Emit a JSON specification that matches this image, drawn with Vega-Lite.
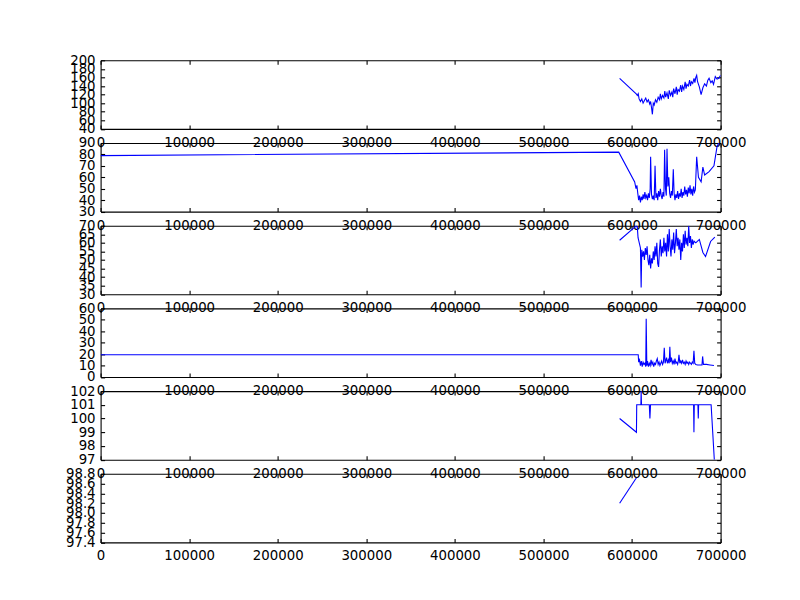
{
"$schema": "https://vega.github.io/schema/vega-lite/v6.json",
"background": "white",
"padding": {"left": 64.6, "top": 53.3, "right": 5, "bottom": 5},
"bounds": "flush",
"spacing": 13.7,
"config": {
 "view": {"stroke": null},
 "axis": {"grid": false, "domainColor": "#000", "domainWidth": 1.1, "tickColor": "#000", "tickWidth": 1.1, "tickSize": -4, "labelFont": "DejaVu Sans", "labelFontSize": 13.33, "labelColor": "#000", "labelOverlap": false, "labelFlush": false, "labelBound": false}
},
"datasets": {
 "p1": [{"x":586000,"y":158},{"x":605000,"y":121},{"x":606000,"y":118},{"x":607000,"y":122},{"x":608000,"y":110},{"x":609500,"y":104},{"x":611000,"y":110},{"x":612500,"y":100},{"x":614000,"y":106},{"x":615500,"y":112},{"x":617000,"y":103},{"x":618500,"y":108},{"x":620000,"y":98},{"x":621000,"y":104},{"x":622000,"y":90},{"x":623000,"y":74},{"x":624000,"y":100},{"x":625000,"y":96},{"x":626500,"y":108},{"x":628000,"y":102},{"x":629500,"y":114},{"x":631000,"y":108},{"x":632000,"y":122},{"x":633000,"y":110},{"x":634500,"y":118},{"x":636000,"y":112},{"x":637000,"y":128},{"x":638000,"y":114},{"x":639500,"y":124},{"x":641000,"y":110},{"x":642000,"y":130},{"x":643500,"y":118},{"x":645000,"y":126},{"x":646000,"y":114},{"x":647000,"y":134},{"x":648500,"y":122},{"x":650000,"y":138},{"x":651000,"y":120},{"x":652000,"y":132},{"x":653500,"y":128},{"x":655000,"y":142},{"x":656000,"y":126},{"x":657000,"y":140},{"x":658500,"y":132},{"x":660000,"y":150},{"x":661000,"y":134},{"x":662000,"y":144},{"x":663500,"y":140},{"x":665000,"y":154},{"x":666000,"y":140},{"x":667000,"y":150},{"x":668500,"y":146},{"x":670000,"y":158},{"x":671000,"y":148},{"x":672000,"y":160},{"x":673000,"y":165},{"x":674000,"y":150},{"x":676000,"y":138},{"x":678000,"y":120},{"x":680000,"y":136},{"x":682000,"y":145},{"x":684000,"y":140},{"x":685500,"y":153},{"x":687000,"y":158},{"x":689000,"y":148},{"x":690500,"y":152},{"x":692000,"y":144},{"x":694000,"y":162},{"x":696000,"y":156},{"x":698000,"y":158},{"x":700000,"y":165}],
 "p2": [{"x":0,"y":79},{"x":585000,"y":82},{"x":603000,"y":56},{"x":604500,"y":50},{"x":605500,"y":53},{"x":606500,"y":46},{"x":607500,"y":40},{"x":608500,"y":44},{"x":609500,"y":38},{"x":610500,"y":43},{"x":611500,"y":40},{"x":612500,"y":45},{"x":613500,"y":41},{"x":614500,"y":47},{"x":615500,"y":42},{"x":616500,"y":44},{"x":617500,"y":40},{"x":618500,"y":46},{"x":619500,"y":42},{"x":620500,"y":50},{"x":621000,"y":78},{"x":622000,"y":45},{"x":623000,"y":41},{"x":624000,"y":44},{"x":625000,"y":40},{"x":626000,"y":70},{"x":627000,"y":42},{"x":628000,"y":46},{"x":629000,"y":40},{"x":630000,"y":48},{"x":631000,"y":43},{"x":632000,"y":50},{"x":633000,"y":44},{"x":634000,"y":41},{"x":635000,"y":47},{"x":636000,"y":43},{"x":636800,"y":84},{"x":637800,"y":50},{"x":638700,"y":44},{"x":639500,"y":85},{"x":640500,"y":52},{"x":641500,"y":60},{"x":642500,"y":46},{"x":643500,"y":42},{"x":644500,"y":48},{"x":645500,"y":44},{"x":646600,"y":67},{"x":647500,"y":46},{"x":648500,"y":40},{"x":649500,"y":45},{"x":650500,"y":42},{"x":651500,"y":48},{"x":652500,"y":41},{"x":653500,"y":46},{"x":654500,"y":43},{"x":655500,"y":50},{"x":656500,"y":42},{"x":657500,"y":47},{"x":658500,"y":44},{"x":659500,"y":52},{"x":660500,"y":45},{"x":661500,"y":49},{"x":662500,"y":43},{"x":663500,"y":51},{"x":664500,"y":46},{"x":665500,"y":53},{"x":666500,"y":45},{"x":667500,"y":50},{"x":668500,"y":44},{"x":669500,"y":52},{"x":670500,"y":47},{"x":671500,"y":49},{"x":673000,"y":78},{"x":675000,"y":60},{"x":678000,"y":56},{"x":680000,"y":69},{"x":682000,"y":62},{"x":687000,"y":65},{"x":692500,"y":70},{"x":696000,"y":87},{"x":700000,"y":93}],
 "p3": [{"x":586000,"y":61.5},{"x":605000,"y":70},{"x":606000,"y":69},{"x":606800,"y":63},{"x":609500,"y":57},{"x":610300,"y":34},{"x":611000,"y":56},{"x":612000,"y":52},{"x":613000,"y":55},{"x":614000,"y":50},{"x":615000,"y":57},{"x":616000,"y":53},{"x":617000,"y":58},{"x":618000,"y":50},{"x":619000,"y":47},{"x":620000,"y":53},{"x":621000,"y":45},{"x":622000,"y":51},{"x":623000,"y":48},{"x":624000,"y":55},{"x":625000,"y":50},{"x":626000,"y":58},{"x":627000,"y":52},{"x":628000,"y":60},{"x":629000,"y":48},{"x":630000,"y":46},{"x":631000,"y":56},{"x":632000,"y":62},{"x":633000,"y":52},{"x":634000,"y":58},{"x":635000,"y":54},{"x":636000,"y":63},{"x":637000,"y":55},{"x":638000,"y":60},{"x":639000,"y":52},{"x":640000,"y":65},{"x":641000,"y":55},{"x":642000,"y":68},{"x":643000,"y":58},{"x":644000,"y":52},{"x":645000,"y":62},{"x":646000,"y":56},{"x":647000,"y":66},{"x":648000,"y":54},{"x":649000,"y":60},{"x":650000,"y":68},{"x":651000,"y":58},{"x":652000,"y":63},{"x":653000,"y":56},{"x":654000,"y":62},{"x":655000,"y":50},{"x":656000,"y":60},{"x":657000,"y":55},{"x":658000,"y":65},{"x":659000,"y":57},{"x":660000,"y":67},{"x":661000,"y":59},{"x":662000,"y":63},{"x":663000,"y":58},{"x":664000,"y":70},{"x":665000,"y":60},{"x":666000,"y":64},{"x":667000,"y":57},{"x":668000,"y":62},{"x":669000,"y":59},{"x":670000,"y":61},{"x":672000,"y":60},{"x":674000,"y":61},{"x":676000,"y":62},{"x":680000,"y":54.4},{"x":683000,"y":52},{"x":688700,"y":60.8},{"x":693500,"y":63.3}],
 "p4": [{"x":0,"y":19.5},{"x":607000,"y":19.5},{"x":607500,"y":13},{"x":608500,"y":15},{"x":609500,"y":10},{"x":610500,"y":14},{"x":611500,"y":9},{"x":612500,"y":13},{"x":613500,"y":11},{"x":614500,"y":12},{"x":615500,"y":9},{"x":616000,"y":51},{"x":616700,"y":10},{"x":617500,"y":14},{"x":618500,"y":9},{"x":619500,"y":12},{"x":620500,"y":10},{"x":621500,"y":15},{"x":622500,"y":11},{"x":623500,"y":13},{"x":624500,"y":9},{"x":625500,"y":12},{"x":626500,"y":11},{"x":627500,"y":14},{"x":628500,"y":16},{"x":629500,"y":11},{"x":630500,"y":13},{"x":631500,"y":10},{"x":632500,"y":12},{"x":633500,"y":14},{"x":634500,"y":11},{"x":635500,"y":13},{"x":636400,"y":25.5},{"x":637300,"y":12},{"x":638000,"y":14},{"x":639000,"y":17},{"x":640000,"y":12},{"x":641000,"y":15},{"x":642000,"y":12},{"x":642700,"y":26.5},{"x":643500,"y":13},{"x":644500,"y":17},{"x":645500,"y":12},{"x":646500,"y":14},{"x":647500,"y":11},{"x":648500,"y":16},{"x":649500,"y":12},{"x":650500,"y":13},{"x":651500,"y":11},{"x":652300,"y":14},{"x":653000,"y":19.5},{"x":654000,"y":12},{"x":655000,"y":14},{"x":656000,"y":12},{"x":657000,"y":15},{"x":658000,"y":12},{"x":659000,"y":13},{"x":660000,"y":11},{"x":661000,"y":14},{"x":662000,"y":12},{"x":663000,"y":13},{"x":664000,"y":11},{"x":665000,"y":13},{"x":666000,"y":12},{"x":667000,"y":11},{"x":668000,"y":13},{"x":669000,"y":12},{"x":669900,"y":23},{"x":670800,"y":12},{"x":672000,"y":11},{"x":674000,"y":10.5},{"x":679000,"y":10.5},{"x":679700,"y":18},{"x":680600,"y":11},{"x":684000,"y":11},{"x":688000,"y":10.5},{"x":692500,"y":10}],
 "p5": [{"x":586000,"y":100},{"x":605000,"y":99},{"x":605300,"y":101},{"x":610000,"y":101},{"x":610300,"y":102},{"x":610700,"y":101},{"x":619500,"y":101},{"x":620200,"y":100},{"x":620900,"y":101},{"x":669500,"y":101},{"x":669900,"y":99},{"x":670300,"y":101},{"x":674400,"y":101},{"x":674800,"y":100},{"x":675200,"y":101},{"x":689300,"y":101},{"x":692900,"y":97}],
 "p6": [{"x":586000,"y":98.2},{"x":605000,"y":98.72}]
},
"vconcat": [
 {"width": 620, "height": 68.6, "data": {"name": "p1"},
  "layer": [
   {"mark": {"type": "line", "color": "#0000ff", "strokeWidth": 1.1, "clip": true},
    "encoding": {
     "x": {"field": "x", "type": "quantitative", "title": null, "scale": {"domain": [0, 700000], "nice": false, "zero": false}, "axis": {"orient": "bottom", "values": [0,100000,200000,300000,400000,500000,600000,700000], "format": "d", "labelPadding": 10.5}},
     "y": {"field": "y", "type": "quantitative", "title": null, "scale": {"domain": [40, 200], "nice": false, "zero": false}, "axis": {"orient": "left", "values": [40,60,80,100,120,140,160,180,200], "format": "d", "labelPadding": 9.5}}}},
   {"mark": {"type": "line", "strokeOpacity": 0, "clip": true},
    "encoding": {
     "x": {"field": "x", "type": "quantitative", "title": null, "scale": {"domain": [0, 700000], "nice": false, "zero": false}, "axis": {"orient": "top", "values": [0,100000,200000,300000,400000,500000,600000,700000], "labels": false}},
     "y": {"field": "y", "type": "quantitative", "title": null, "scale": {"domain": [40, 200], "nice": false, "zero": false}, "axis": {"orient": "right", "values": [40,60,80,100,120,140,160,180,200], "labels": false}}}}
  ],
  "resolve": {"axis": {"x": "independent", "y": "independent"}}},
 {"width": 620, "height": 68.6, "data": {"name": "p2"},
  "layer": [
   {"mark": {"type": "line", "color": "#0000ff", "strokeWidth": 1.1, "clip": true},
    "encoding": {
     "x": {"field": "x", "type": "quantitative", "title": null, "scale": {"domain": [0, 700000], "nice": false, "zero": false}, "axis": {"orient": "bottom", "values": [0,100000,200000,300000,400000,500000,600000,700000], "format": "d", "labelPadding": 10.5}},
     "y": {"field": "y", "type": "quantitative", "title": null, "scale": {"domain": [30, 90], "nice": false, "zero": false}, "axis": {"orient": "left", "values": [30,40,50,60,70,80,90], "format": "d", "labelPadding": 9.5}}}},
   {"mark": {"type": "line", "strokeOpacity": 0, "clip": true},
    "encoding": {
     "x": {"field": "x", "type": "quantitative", "title": null, "scale": {"domain": [0, 700000], "nice": false, "zero": false}, "axis": {"orient": "top", "values": [0,100000,200000,300000,400000,500000,600000,700000], "labels": false}},
     "y": {"field": "y", "type": "quantitative", "title": null, "scale": {"domain": [30, 90], "nice": false, "zero": false}, "axis": {"orient": "right", "values": [30,40,50,60,70,80,90], "labels": false}}}}
  ],
  "resolve": {"axis": {"x": "independent", "y": "independent"}}},
 {"width": 620, "height": 68.6, "data": {"name": "p3"},
  "layer": [
   {"mark": {"type": "line", "color": "#0000ff", "strokeWidth": 1.1, "clip": true},
    "encoding": {
     "x": {"field": "x", "type": "quantitative", "title": null, "scale": {"domain": [0, 700000], "nice": false, "zero": false}, "axis": {"orient": "bottom", "values": [0,100000,200000,300000,400000,500000,600000,700000], "format": "d", "labelPadding": 10.5}},
     "y": {"field": "y", "type": "quantitative", "title": null, "scale": {"domain": [30, 70], "nice": false, "zero": false}, "axis": {"orient": "left", "values": [30,35,40,45,50,55,60,65,70], "format": "d", "labelPadding": 9.5}}}},
   {"mark": {"type": "line", "strokeOpacity": 0, "clip": true},
    "encoding": {
     "x": {"field": "x", "type": "quantitative", "title": null, "scale": {"domain": [0, 700000], "nice": false, "zero": false}, "axis": {"orient": "top", "values": [0,100000,200000,300000,400000,500000,600000,700000], "labels": false}},
     "y": {"field": "y", "type": "quantitative", "title": null, "scale": {"domain": [30, 70], "nice": false, "zero": false}, "axis": {"orient": "right", "values": [30,35,40,45,50,55,60,65,70], "labels": false}}}}
  ],
  "resolve": {"axis": {"x": "independent", "y": "independent"}}},
 {"width": 620, "height": 68.6, "data": {"name": "p4"},
  "layer": [
   {"mark": {"type": "line", "color": "#0000ff", "strokeWidth": 1.1, "clip": true},
    "encoding": {
     "x": {"field": "x", "type": "quantitative", "title": null, "scale": {"domain": [0, 700000], "nice": false, "zero": false}, "axis": {"orient": "bottom", "values": [0,100000,200000,300000,400000,500000,600000,700000], "format": "d", "labelPadding": 10.5}},
     "y": {"field": "y", "type": "quantitative", "title": null, "scale": {"domain": [0, 60], "nice": false, "zero": false}, "axis": {"orient": "left", "values": [0,10,20,30,40,50,60], "format": "d", "labelPadding": 9.5}}}},
   {"mark": {"type": "line", "strokeOpacity": 0, "clip": true},
    "encoding": {
     "x": {"field": "x", "type": "quantitative", "title": null, "scale": {"domain": [0, 700000], "nice": false, "zero": false}, "axis": {"orient": "top", "values": [0,100000,200000,300000,400000,500000,600000,700000], "labels": false}},
     "y": {"field": "y", "type": "quantitative", "title": null, "scale": {"domain": [0, 60], "nice": false, "zero": false}, "axis": {"orient": "right", "values": [0,10,20,30,40,50,60], "labels": false}}}}
  ],
  "resolve": {"axis": {"x": "independent", "y": "independent"}}},
 {"width": 620, "height": 68.6, "data": {"name": "p5"},
  "layer": [
   {"mark": {"type": "line", "color": "#0000ff", "strokeWidth": 1.1, "clip": true},
    "encoding": {
     "x": {"field": "x", "type": "quantitative", "title": null, "scale": {"domain": [0, 700000], "nice": false, "zero": false}, "axis": {"orient": "bottom", "values": [0,100000,200000,300000,400000,500000,600000,700000], "format": "d", "labelPadding": 10.5}},
     "y": {"field": "y", "type": "quantitative", "title": null, "scale": {"domain": [97, 102], "nice": false, "zero": false}, "axis": {"orient": "left", "values": [97,98,99,100,101,102], "format": "d", "labelPadding": 9.5}}}},
   {"mark": {"type": "line", "strokeOpacity": 0, "clip": true},
    "encoding": {
     "x": {"field": "x", "type": "quantitative", "title": null, "scale": {"domain": [0, 700000], "nice": false, "zero": false}, "axis": {"orient": "top", "values": [0,100000,200000,300000,400000,500000,600000,700000], "labels": false}},
     "y": {"field": "y", "type": "quantitative", "title": null, "scale": {"domain": [97, 102], "nice": false, "zero": false}, "axis": {"orient": "right", "values": [97,98,99,100,101,102], "labels": false}}}}
  ],
  "resolve": {"axis": {"x": "independent", "y": "independent"}}},
 {"width": 620, "height": 68.6, "data": {"name": "p6"},
  "layer": [
   {"mark": {"type": "line", "color": "#0000ff", "strokeWidth": 1.1, "clip": true},
    "encoding": {
     "x": {"field": "x", "type": "quantitative", "title": null, "scale": {"domain": [0, 700000], "nice": false, "zero": false}, "axis": {"orient": "bottom", "values": [0,100000,200000,300000,400000,500000,600000,700000], "format": "d", "labelPadding": 10.5}},
     "y": {"field": "y", "type": "quantitative", "title": null, "scale": {"domain": [97.4, 98.8], "nice": false, "zero": false}, "axis": {"orient": "left", "values": [97.4,97.6,97.8,98.0,98.2,98.4,98.6,98.8], "format": ".1f", "labelPadding": 9.5}}}},
   {"mark": {"type": "line", "strokeOpacity": 0, "clip": true},
    "encoding": {
     "x": {"field": "x", "type": "quantitative", "title": null, "scale": {"domain": [0, 700000], "nice": false, "zero": false}, "axis": {"orient": "top", "values": [0,100000,200000,300000,400000,500000,600000,700000], "labels": false}},
     "y": {"field": "y", "type": "quantitative", "title": null, "scale": {"domain": [97.4, 98.8], "nice": false, "zero": false}, "axis": {"orient": "right", "values": [97.4,97.6,97.8,98.0,98.2,98.4,98.6,98.8], "labels": false}}}}
  ],
  "resolve": {"axis": {"x": "independent", "y": "independent"}}}
]
}
